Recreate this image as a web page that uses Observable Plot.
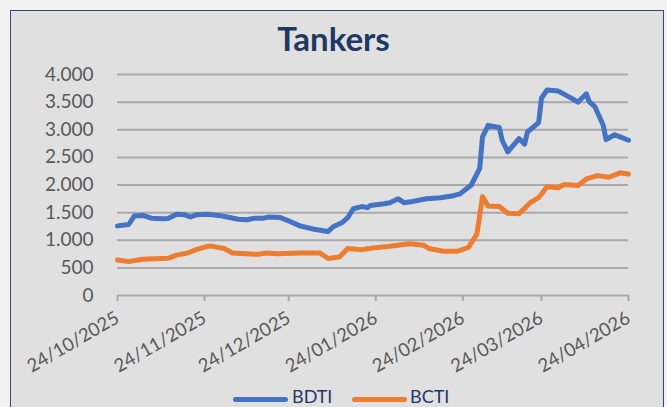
<!DOCTYPE html>
<html>
<head>
<meta charset="utf-8">
<script src="https://cdn.jsdelivr.net/npm/d3@7"></script>
<script src="https://cdn.jsdelivr.net/npm/@observablehq/plot@0.6"></script>
<style>
  html, body { margin: 0; padding: 0; background: #f2f2f2; width: 667px; height: 407px; overflow: hidden; }
  #box { position: absolute; left: 10px; top: 10px; width: 654px; height: 420px; background: #e0e0e0; border: 1.5px solid #2f4a78; box-sizing: border-box; }
  #title { position: absolute; left: 0; width: 667px; top: 22px; text-align: center; font-family: Lato, sans-serif; font-weight: 700; font-size: 33px; color: #1f3864; line-height: 1; }
  #chart { position: absolute; left: 0; top: 0; }
  #legend { position: absolute; top: 385px; left: 0; width: 667px; height: 21px; font-family: Lato, sans-serif; font-size: 18px; color: #1f3864; }
  .sw { position: absolute; top: 12px; height: 5px; border-radius: 3px; width: 55px; }
  .lt { position: absolute; top: 2px; line-height: 1; }
</style>
</head>
<body>
<div id="box"></div>
<div id="title">Tankers</div>
<div id="chart"></div>
<div id="legend">
  <div class="sw" style="left:233px;background:#4472c4"></div><div class="lt" style="left:292px">BDTI</div>
  <div class="sw" style="left:352px;background:#ed7d31"></div><div class="lt" style="left:410px">BCTI</div>
</div>
<script>
const seriesNames = ["BDTI", "BCTI"];
const seriesColors = ["#4472c4", "#ed7d31"];

const bdtiDates = ["2025-10-24","2025-10-28","2025-10-30","2025-11-02","2025-11-05","2025-11-09","2025-11-11","2025-11-14","2025-11-17","2025-11-19","2025-11-21","2025-11-25","2025-11-29","2025-12-02","2025-12-06","2025-12-09","2025-12-12","2025-12-15","2025-12-17","2025-12-21","2025-12-23","2025-12-28","2026-01-02","2026-01-07","2026-01-09","2026-01-12","2026-01-14","2026-01-16","2026-01-19","2026-01-21","2026-01-22","2026-01-27","2026-01-29","2026-02-01","2026-02-03","2026-02-06","2026-02-11","2026-02-16","2026-02-20","2026-02-23","2026-02-27","2026-03-02","2026-03-03","2026-03-05","2026-03-09","2026-03-10","2026-03-12","2026-03-16","2026-03-18","2026-03-19","2026-03-23","2026-03-24","2026-03-26","2026-03-30","2026-04-03","2026-04-06","2026-04-09","2026-04-10","2026-04-12","2026-04-15","2026-04-16","2026-04-19","2026-04-21","2026-04-24"];
const bdtiValues = [1260,1285,1440,1450,1400,1390,1395,1470,1460,1420,1460,1470,1450,1420,1380,1370,1400,1400,1420,1410,1370,1260,1200,1160,1250,1320,1410,1570,1610,1590,1630,1660,1680,1750,1680,1700,1750,1770,1800,1840,2000,2300,2870,3080,3040,2810,2600,2840,2740,2960,3130,3570,3720,3700,3590,3500,3650,3510,3420,3080,2820,2910,2870,2810];

const bctiDates = ["2025-10-24","2025-10-28","2025-11-02","2025-11-11","2025-11-14","2025-11-18","2025-11-21","2025-11-25","2025-11-27","2025-12-01","2025-12-04","2025-12-09","2025-12-13","2025-12-16","2025-12-20","2025-12-28","2026-01-04","2026-01-07","2026-01-11","2026-01-14","2026-01-19","2026-01-23","2026-01-29","2026-02-05","2026-02-10","2026-02-12","2026-02-17","2026-02-22","2026-02-26","2026-03-01","2026-03-03","2026-03-05","2026-03-09","2026-03-12","2026-03-16","2026-03-20","2026-03-23","2026-03-26","2026-03-30","2026-04-01","2026-04-06","2026-04-09","2026-04-13","2026-04-17","2026-04-21","2026-04-24"];
const bctiValues = [643,613,655,673,730,770,830,890,890,850,770,755,745,770,755,770,770,670,695,850,830,860,890,935,910,850,800,800,870,1110,1790,1620,1610,1490,1480,1680,1770,1970,1950,2010,1990,2110,2170,2140,2220,2200];

const xTickLabels = ["24/10/2025","24/11/2025","24/12/2025","24/01/2026","24/02/2026","24/03/2026","24/04/2026"];
const yTicks = [0,500,1000,1500,2000,2500,3000,3500,4000];

const parse = d3.utcParse("%Y-%m-%d");
const parseTick = d3.utcParse("%d/%m/%Y");
const bdti = bdtiDates.map((d, i) => ({date: parse(d), value: bdtiValues[i], series: seriesNames[0]}));
const bcti = bctiDates.map((d, i) => ({date: parse(d), value: bctiValues[i], series: seriesNames[1]}));
const xTicks = xTickLabels.map(parseTick);
const fmtY = v => d3.format(",")(v).replace(/,/g, ".");
const fmtX = d3.utcFormat("%d/%m/%Y");

const chart = Plot.plot({
  width: 667,
  height: 407,
  marginLeft: 117,
  marginRight: 39,
  marginTop: 74,
  marginBottom: 112,
  style: { background: "transparent", fontFamily: "Lato, sans-serif", fontSize: "19px", color: "#595959" },
  x: { type: "utc", domain: [xTicks[0], xTicks[xTicks.length - 1]] },
  y: { domain: [0, 4000] },
  marks: [
    Plot.gridY(yTicks.slice(1), { stroke: "#a9a9a9", strokeOpacity: 1, strokeWidth: 2 }),
    Plot.ruleY([0], { stroke: "#a9a9a9", strokeWidth: 2 }),
    Plot.axisY(yTicks, { tickSize: 0, tickPadding: 24, tickFormat: fmtY, fill: "#595959", fontSize: 19, label: null }),
    Plot.axisX(xTicks, { tickSize: 6, stroke: "#a9a9a9", strokeWidth: 2, text: null, label: null }),
    Plot.axisX(xTicks, { tickSize: 0, tickPadding: 21, tickRotate: -30, tickFormat: fmtX, fill: "#595959", fontSize: 18.5, label: null }),
    Plot.line(bcti, { x: "date", y: "value", stroke: seriesColors[1], strokeWidth: 5, strokeLinejoin: "round", strokeLinecap: "round" }),
    Plot.line(bdti, { x: "date", y: "value", stroke: seriesColors[0], strokeWidth: 5, strokeLinejoin: "round", strokeLinecap: "round" })
  ]
});
document.getElementById("chart").appendChild(chart);
</script>
</body>
</html>
